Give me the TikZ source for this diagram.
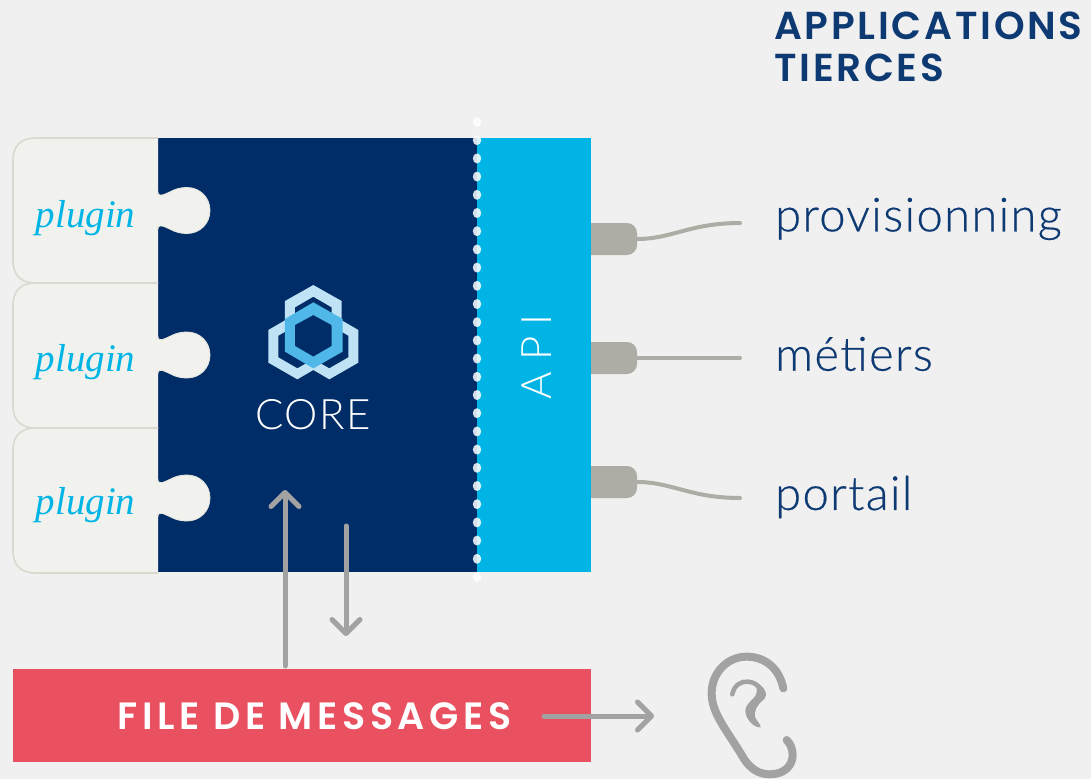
\documentclass[tikz,border=0pt]{standalone}
\usepackage{fontspec}
\setmainfont{Lato Light}
\newfontfamily\headfont{Poppins SemiBold}
\newfontfamily\plugfont{Liberation Serif}
\usetikzlibrary{arrows.meta}
\definecolor{bgc}{HTML}{F0F0F0}
\definecolor{navy}{HTML}{002D68}
\definecolor{apic}{HTML}{00B5E5}
\definecolor{redc}{HTML}{E95060}
\definecolor{plugf}{HTML}{F1F2EE}
\definecolor{plugl}{HTML}{D9D9CF}
\definecolor{grayp}{HTML}{ADADA5}
\definecolor{arrowc}{HTML}{A2A2A2}
\definecolor{txtc}{HTML}{0E3A73}
\definecolor{hexl}{HTML}{BFE2F5}
\definecolor{hexb}{HTML}{4FB8E8}
\tikzset{
  x=1pt,y=-1pt,
  box/.style={anchor=north west,inner sep=0pt,outer sep=0pt,draw=none},
  plugtxt/.style={text=apic,font=\plugfont\itshape\fontsize{39}{39}\selectfont,inner sep=0pt},
  applabel/.style={anchor=west,text=txtc,inner sep=0pt,font=\fontsize{47}{47}\selectfont\addfontfeatures{LetterSpace=3,FakeBold=0.4}},
  plugbody/.style={fill=grayp,rounded corners=10pt,draw=none},
  wire/.style={draw=grayp,line width=4pt,line cap=round},
  flow/.style={draw=arrowc,line width=5pt,line cap=round,-{Straight Barb[length=14pt,width=28pt,line width=5pt,round]}},
  plugshape/.style={fill=plugf,draw=plugl,line width=1.6pt},
  knob/.style={fill=plugf,draw=plugl!60!plugf,line width=.8pt}
}
\newcommand{\pluginpiece}[2]{%
  \draw[plugshape] (158,#1) -- (35,#1) .. controls (21,#1) and (13,{#1+8}) .. (13,{#1+22})
    -- (13,{#1+123}) .. controls (13,{#1+137}) and (21,{#1+145}) .. (35,{#1+145}) -- (158,{#1+145});
  \path[knob] (157,{#2-16}) -- (158,{#2-18}) .. controls (158,{#2-15}) and (161,{#2-15}) .. (164,{#2-16})
    .. controls (170,{#2-18}) and (175,{#2-23}) .. (187,{#2-23})
    .. controls (200,{#2-23}) and (210,{#2-13}) .. (210,#2)
    .. controls (210,{#2+13}) and (200,{#2+23}) .. (187,{#2+23})
    .. controls (175,{#2+23}) and (170,{#2+18}) .. (164,{#2+16})
    .. controls (161,{#2+15}) and (158,{#2+15}) .. (158,{#2+18}) -- (157,{#2+16});
  \fill[plugf] (152,{#2-15}) rectangle (160,{#2+15});
}
\begin{document}
\begin{tikzpicture}
\useasboundingbox (0,0) rectangle (1091,779);
\fill[bgc] (0,0) rectangle (1091,779);

% core and API
\node[box,fill=navy,minimum width=319pt,minimum height=434pt] (core) at (158,138) {};
\node[box,fill=apic,minimum width=114pt,minimum height=434pt] (api) at (477,138) {};
\node[text=white,rotate=90,inner sep=0pt,font=\fontsize{42}{42}\selectfont] (apilabel) at (537,357) {A P I};

% plugins
\pluginpiece{138}{210.5}
\pluginpiece{283}{355}
\pluginpiece{428}{498}
\node[plugtxt] (p1) at (85.5,218) {plugin};
\node[plugtxt] (p2) at (85.5,362) {plugin};
\node[plugtxt] (p3) at (85.5,505) {plugin};

% dotted separator
\foreach \k in {0,...,25} \fill[white,opacity=.85] (477,{122+18.2*\k}) ellipse (4.2pt and 5pt);

% logo
\begin{scope}[shift={(240,270)},x=0.3333pt,y=-0.3333pt]
  \fill[hexl,even odd rule]
    (220,45)--(305,93)--(305,151)--(355,180)--(355,278)--(268,328)--(220,300)--(172,328)--(85,278)--(85,180)--(135,151)--(135,93)--cycle
    (220,80)--(275,112)--(275,168)--(325,197)--(325,262)--(268,295)--(220,268)--(172,295)--(115,262)--(115,197)--(165,168)--(165,112)--cycle;
  \fill[hexb,even odd rule]
    (220,97)--(308,147)--(308,245)--(220,295)--(135,245)--(135,147)--cycle
    (220,135)--(275,165)--(275,228)--(220,260)--(165,228)--(165,165)--cycle;
\end{scope}
\node[text=white,inner sep=0pt,font=\fontsize{42}{42}\selectfont\addfontfeatures{LetterSpace=3}] (corelabel) at (313,415) {CORE};

% API plugs
\node[box,plugbody,minimum width=56pt,minimum height=32pt] (a1) at (581,223) {};
\node[box,plugbody,minimum width=56pt,minimum height=32pt] (a2) at (581,342) {};
\node[box,plugbody,minimum width=56pt,minimum height=32pt] (a3) at (581,466) {};
\fill[apic] (575,215) rectangle (591,505);

\node[applabel] (l1) at (775,219) {provisionning};
\node[applabel] (l2) at (775,354) {métiers};
\node[applabel] (l3) at (775,497) {portail};
\coordinate (e1) at (740,223);
\coordinate (e2) at (740,358);
\coordinate (e3) at (740,498);
\draw[wire] (a1.east) ++(0,0) .. controls +(35,0) and (690,223) .. (e1);
\draw[wire] (a2.east) -- (e2);
\draw[wire] (a3.east) .. controls +(35,0) and (690,498) .. (e3);

% heading
\node[anchor=north west,inner sep=0pt,text=txtc,align=left,font=\headfont\fontsize{39}{42}\selectfont\addfontfeatures{LetterSpace=7}] (head) at (774,12) {APPLICATIONS\\TIERCES};

% message queue
\node[box,fill=redc,minimum width=578pt,minimum height=93pt] (msg) at (13,669) {};
\node[text=white,inner sep=0pt,font=\headfont\fontsize{38}{38}\selectfont\addfontfeatures{LetterSpace=12}] (msgl) at (314.5,716.5) {FILE DE MESSAGES};

% flows
\coordinate (u0) at (285,666);
\coordinate (u1) at (285,490);
\coordinate (d0) at (346,526);
\coordinate (d1) at (346,636);
\coordinate (r0) at (544,716);
\coordinate (r1) at (654,716);
\draw[flow] (u0) -- (u1);
\draw[flow] (d0) -- (d1);
\draw[flow] (r0) -- (r1);

% ear
\begin{scope}[shift={(530,640)},x=0.3333pt,y=-0.3333pt]
  \draw[arrowc,line width=8pt,line cap=round]
    (760,145) .. controls (748,85) and (705,50) .. (650,50)
    .. controls (590,50) and (545,100) .. (545,160)
    .. controls (545,220) and (590,270) .. (635,345)
    .. controls (660,390) and (690,403) .. (720,403)
    .. controls (765,403) and (788,375) .. (788,345)
    .. controls (788,325) and (780,310) .. (770,300);
  \draw[arrowc,line width=4.5pt,line cap=round]
    (607,163) .. controls (612,135) and (635,122) .. (655,125)
    .. controls (670,126) and (685,135) .. (695,150);
  \fill[arrowc]
    (665,125) .. controls (705,135) and (718,165) .. (700,180)
    .. controls (680,195) and (672,215) .. (675,230)
    .. controls (680,245) and (692,250) .. (692,262)
    .. controls (670,265) and (640,230) .. (647,205)
    .. controls (655,180) and (685,175) .. (680,145) -- cycle;
\end{scope}
\end{tikzpicture}
\end{document}
